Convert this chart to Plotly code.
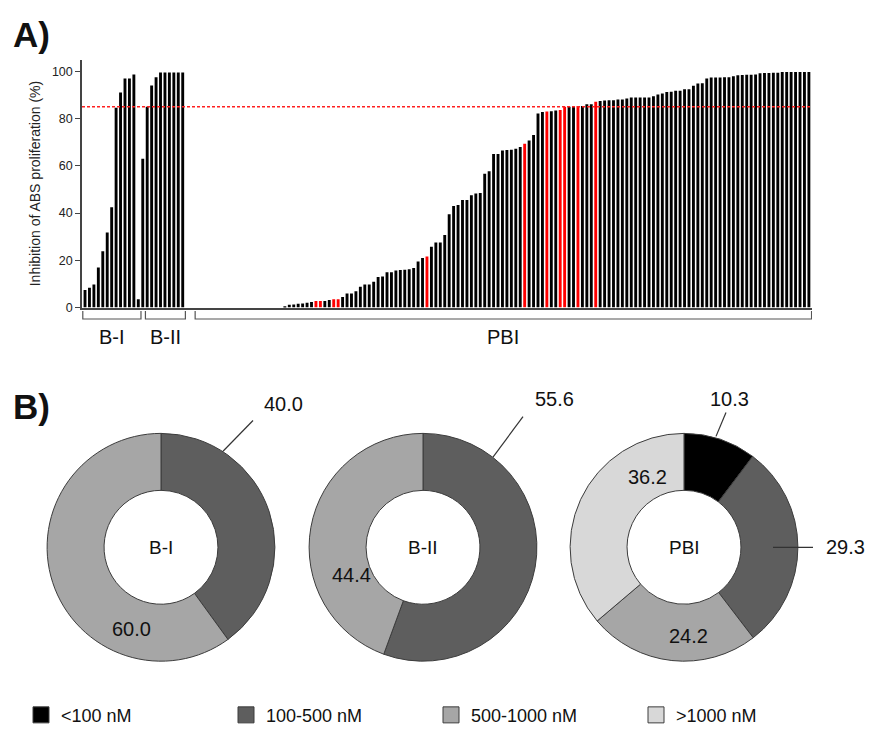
import plotly.graph_objects as go

# The page body has an 8 px margin, so the figure is sized to fill the rest of the window
OFF = 8
W, H = 873 - OFF, 739 - OFF
FONT = "Arial, Liberation Sans, sans-serif"

# ---------------- Data: panel A (inhibition of ABS proliferation, %) ----------------
group_names = ["B-I", "B-II", "PBI"]
bi_values = [7.4, 8.4, 9.8, 17.0, 23.8, 31.8, 42.5, 84.6, 91.0, 97.0, 97.0, 98.7, 3.5]
bii_values = [63.0, 85.0, 94.0, 97.5, 99.5, 99.5, 99.5, 99.5, 99.5, 99.5]
pbi_values = [
    0, 0, 0, 0, 0, 0, 0, 0, 0, 0, 0, 0, 0, 0, 0, 0, 0, 0, 0, 0, 0,
    0.6, 1.2, 1.3, 1.6, 1.7, 2.1, 2.4, 2.8, 2.8, 2.8, 3.2, 3.5, 3.5, 4.5, 6.0, 6.0,
    6.9, 8.8, 9.8, 9.8, 10.9, 12.9, 13.2, 15.0, 15.0, 15.7, 15.9, 16.0, 16.2, 16.8,
    19.5, 21.0, 21.6, 25.8, 27.5, 27.5, 30.7, 39.5, 43.0, 43.4, 45.5, 45.5, 47.6,
    48.3, 48.5, 56.7, 57.7, 65.0, 65.0, 66.5, 66.7, 66.8, 67.2, 68.0, 69.3, 70.7,
    73.1, 82.1, 82.8, 83.0, 83.1, 83.4, 83.6, 85.0, 85.0, 85.2, 85.3, 85.3, 86.1,
    86.1, 87.1, 87.4, 87.7, 87.8, 87.8, 88.1, 88.1, 88.5, 88.9, 88.9, 88.9, 88.9,
    88.9, 89.4, 90.2, 90.6, 91.2, 91.3, 91.8, 91.8, 92.4, 92.4, 93.9, 94.8, 95.0,
    97.0, 97.4, 97.4, 97.4, 97.5, 97.5, 97.9, 98.3, 98.4, 98.5, 98.5, 98.6, 99.2,
    99.3, 99.3, 99.4, 99.4, 99.7, 99.7, 99.7, 99.7, 99.7, 99.7, 99.7,
]
# positions (within the PBI list) of the highlighted (red) compounds
pbi_highlight = [28, 29, 32, 33, 53, 75, 80, 83, 84, 87, 91]
threshold = 85

# ---------------- Data: panel B (IC50 class distribution, %) ----------------
ic50_classes = ["<100 nM", "100-500 nM", "500-1000 nM", ">1000 nM"]
pie_bi = [0.0, 40.0, 60.0, 0.0]
pie_bii = [0.0, 55.6, 44.4, 0.0]
pie_pbi = [10.3, 29.3, 24.2, 36.2]

# ---------------- styles ----------------
class_colors = ["#000000", "#5e5e5e", "#a6a6a6", "#d8d8d8"]
bar_color = "#000000"
hl_color = "#ff0000"


def pxx(px):
    return (px - OFF) / W


def pxy(py):
    return 1 - (py - OFF) / H


# x positions: groups laid out consecutively, one empty slot before PBI
x_bi = list(range(len(bi_values)))
x_bii = list(range(len(bi_values), len(bi_values) + len(bii_values)))
start_pbi = len(bi_values) + len(bii_values) + 1
x_pbi = list(range(start_pbi, start_pbi + len(pbi_values)))

xs = x_bi + x_bii + x_pbi
ys = bi_values + bii_values + pbi_values
colors = ([bar_color] * (len(bi_values) + len(bii_values)) +
          [hl_color if i in pbi_highlight else bar_color for i in range(len(pbi_values))])

fig = go.Figure()
fig.add_trace(go.Bar(x=xs, y=ys, marker=dict(color=colors, line=dict(width=0)),
                     showlegend=False, hoverinfo="y"))

# ---------------- pies ----------------
pie_sets = [("B-I", pie_bi), ("B-II", pie_bii), ("PBI", pie_pbi)]
centers_px = [161, 423, 684]
cy_px = 552.5
R = 115
for (name, vals), cx in zip(pie_sets, centers_px):
    labs = [l for l, v in zip(ic50_classes, vals) if v > 0]
    cols = [c for c, v in zip(class_colors, vals) if v > 0]
    vv = [v for v in vals if v > 0]
    fig.add_trace(go.Pie(
        values=vv, labels=labs, sort=False, direction="clockwise", rotation=0,
        hole=0.5, textinfo="none", hoverinfo="label+value", showlegend=False,
        marker=dict(colors=cols, line=dict(color="#3c3c3c", width=1)),
        domain=dict(x=[pxx(cx - R), pxx(cx + R)], y=[pxy(cy_px + R), pxy(cy_px - R)]),
    ))

# legend entries (dummy markers)
for lab, col in zip(ic50_classes, class_colors):
    fig.add_trace(go.Scatter(x=[None], y=[None], mode="markers", name=lab,
                             marker=dict(symbol="square", size=16, color=col,
                                         line=dict(color="#3c3c3c", width=1))))

annotations = []
shapes = []

# panel labels
for txt, py in (("A)", 35), ("B)", 410)):
    annotations.append(dict(text=f"<b>{txt}</b>", x=pxx(11), y=pxy(py), xref="paper", yref="paper",
                            xanchor="left", yanchor="middle", showarrow=False,
                            font=dict(size=35, family=FONT, color="#111")))

# threshold line
shapes.append(dict(type="line", xref="x domain", yref="y", x0=0, x1=1, y0=threshold, y1=threshold,
                   line=dict(color="#ff2020", width=1.5, dash="3px,2px")))

# group brackets
bracket_ranges = [(x_bi[0] - 0.5, x_bi[-1] + 0.6), (x_bii[0] + 0.6, x_bii[-1] + 0.6),
                  (x_pbi[0] + 0.8, x_pbi[-1] + 0.6)]
y_top, y_bot = pxy(314), pxy(322)
for (a, b), name in zip(bracket_ranges, group_names):
    shapes.append(dict(type="path", xref="x", yref="paper",
                       path=f"M {a},{y_top} L {a},{y_bot} L {b},{y_bot} L {b},{y_top}",
                       line=dict(color="#555", width=1.2)))
    annotations.append(dict(text=name, x=(a + b) / 2, y=pxy(340), xref="x", yref="paper",
                            showarrow=False, xanchor="center", yanchor="middle",
                            font=dict(size=20, family=FONT, color="#111")))

# pie value labels: pie index, text, dx, dy (px from centre), leader line (dx0,dy0,dx1,dy1)
label_specs = [
    (0, "40.0", 122, -145, (62, -97, 92, -128)),
    (0, "60.0", -30, 82, None),
    (1, "55.6", 131, -150, (70, -91, 100, -132)),
    (1, "44.4", -72, 28, None),
    (2, "10.3", 45, -150, (32, -112, 42, -136)),
    (2, "36.2", -37, -71, None),
    (2, "29.3", 161, 0, (89, 0, 129, 0)),
    (2, "24.2", 4, 90, None),
]
for (name, _), cx in zip(pie_sets, centers_px):
    annotations.append(dict(text=name, x=pxx(cx), y=pxy(cy_px), xref="paper", yref="paper",
                            xanchor="center", yanchor="middle",
                            showarrow=False, font=dict(size=19, family=FONT, color="#111")))
for pi, txt, dx, dy, ln in label_specs:
    cx = centers_px[pi]
    annotations.append(dict(text=txt, x=pxx(cx + dx), y=pxy(cy_px + dy), xref="paper", yref="paper",
                            xanchor="center", yanchor="middle",
                            showarrow=False, font=dict(size=20, family=FONT, color="#111")))
    if ln:
        shapes.append(dict(type="line", xref="paper", yref="paper",
                           x0=pxx(cx + ln[0]), y0=pxy(cy_px + ln[1]),
                           x1=pxx(cx + ln[2]), y1=pxy(cy_px + ln[3]),
                           line=dict(color="#333", width=1.2)))

fig.update_layout(
    width=W, height=H,
    margin=dict(l=0, r=0, t=0, b=0),
    paper_bgcolor="white", plot_bgcolor="white",
    font=dict(family=FONT, color="#222"),
    bargap=0.35,
    xaxis=dict(domain=[pxx(82), pxx(812)], range=[-0.68, x_pbi[-1] + 0.7],
               showticklabels=False, ticks="", showgrid=False, zeroline=False,
               showline=True, linecolor="#444", linewidth=1.5, fixedrange=True),
    yaxis=dict(domain=[pxy(310.5), pxy(60)], range=[0, 105],
               tickvals=[0, 20, 40, 60, 80, 100], ticks="outside", ticklen=5,
               tickcolor="#444", tickfont=dict(size=12.5, color="#222"),
               showline=True, linecolor="#444", linewidth=1.5, showgrid=False, zeroline=False,
               title=dict(text="Inhibition of ABS proliferation (%)", font=dict(size=14, color="#222"),
                          standoff=8)),
    legend=dict(orientation="h", x=pxx(21), y=pxy(722), xanchor="left", yanchor="middle",
                font=dict(size=18, family=FONT, color="#111"), entrywidth=160,
                itemsizing="trace", bgcolor="rgba(0,0,0,0)"),
    annotations=annotations,
    shapes=shapes,
)

fig.write_html("out.html")
